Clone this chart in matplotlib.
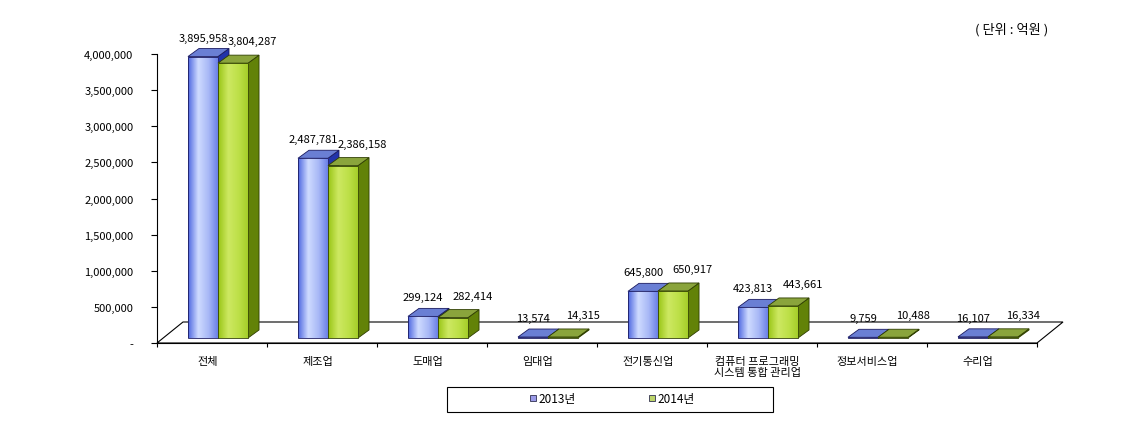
import matplotlib
matplotlib.use("Agg")
import matplotlib.pyplot as plt
import numpy as np
from matplotlib.patches import Polygon, Rectangle
from matplotlib.colors import LinearSegmentedColormap
from matplotlib.lines import Line2D

plt.rcParams["font.family"] = ["Noto Sans CJK KR", "DejaVu Sans"]

# --- data (억원) ---
categories = ["전체", "제조업", "도매업", "임대업", "전기통신업",
              "컴퓨터 프로그래밍\n시스템 통합 관리업", "정보서비스업", "수리업"]
values_2013 = [3895958, 2487781, 299124, 13574, 645800, 423813, 9759, 16107]
values_2014 = [3804287, 2386158, 282414, 14315, 650917, 443661, 10488, 16334]
series_names = ["2013년", "2014년"]
yticks = [0, 500000, 1000000, 1500000, 2000000, 2500000, 3000000, 3500000, 4000000]

# --- style ---
BLUE = dict(grad=["#4d66e0", "#cfdbff", "#a8b8f6", "#6379e6"], top="#6a7fd4",
            side="#2233aa", edge="#1a1a60", legend="#9a9ae8")
GREEN = dict(grad=["#98c414", "#cde862", "#bde048", "#a2cc26"], top="#8aa43c",
             side="#628208", edge="#2e3d00", legend="#bcd46a")

W, H = 1140, 427
fig = plt.figure(figsize=(W / 100, H / 100), dpi=100)
ax = fig.add_axes([157 / W, 83 / H, 880 / W, 289 / H])
ax.set_xlim(0, 8)
ax.set_ylim(0, 4000000)

XPX = 8 / 880          # categories per pixel
YPX = 4000000 / 289    # value units per pixel

# floor
fdx, fdy = 26 * XPX, 21 * YPX
floor = Polygon([(0, 0), (8, 0), (8 + fdx, fdy), (fdx, fdy)], closed=True,
                facecolor="white", edgecolor="black", lw=0.8, clip_on=False, zorder=1)
ax.add_patch(floor)

bw = 0.273
offx, offy = 6 * XPX, 5 * YPX
ddx, ddy = 11 * XPX, 8 * YPX

for s, (vals, st) in enumerate([(values_2013, BLUE), (values_2014, GREEN)]):
    cmap = LinearSegmentedColormap.from_list("g%d" % s, st["grad"])
    for i, v in enumerate(vals):
        x0 = i + 0.227 + s * bw + offx
        x1 = x0 + bw
        y0 = offy
        y1 = v + offy
        z = 3 + s
        side = Polygon([(x1, y0), (x1 + ddx, y0 + ddy), (x1 + ddx, y1 + ddy), (x1, y1)],
                       closed=True, facecolor=st["side"], edgecolor=st["edge"],
                       lw=0.6, clip_on=False, zorder=z)
        top = Polygon([(x0, y1), (x1, y1), (x1 + ddx, y1 + ddy), (x0 + ddx, y1 + ddy)],
                      closed=True, facecolor=st["top"], edgecolor=st["edge"],
                      lw=0.6, clip_on=False, zorder=z)
        front = Rectangle((x0, y0), bw, v, facecolor="none", edgecolor=st["edge"],
                          lw=0.6, clip_on=False, zorder=z + 0.2)
        ax.add_patch(side)
        ax.add_patch(top)
        ax.add_patch(front)
        im = ax.imshow(np.linspace(0, 1, 256)[None, :], cmap=cmap, aspect="auto",
                       extent=(x0, x1, y0, y1), zorder=z + 0.1, interpolation="bilinear")
        im.set_clip_path(front)

    # data labels
    lx = 0.42 if s == 0 else 0.87
    lift = 19 if s == 0 else 22
    for i, v in enumerate(vals):
        ax.text(i + lx, v + offy + lift * YPX, f"{v:,}", ha="center", va="center",
                fontsize=8, zorder=10)

ax.set_xlim(0, 8)
ax.set_ylim(0, 4000000)

for sp in ["top", "right"]:
    ax.spines[sp].set_visible(False)
for sp in ["left", "bottom"]:
    ax.spines[sp].set_linewidth(0.8)
    ax.spines[sp].set_zorder(2)

ax.set_yticks(yticks)
ax.set_yticklabels(["-" if t == 0 else f"{t:,}" for t in yticks], fontsize=8)
ax.tick_params(axis="y", length=4, width=0.8, pad=13)
ax.set_xticks(range(9))
ax.set_xticklabels([])
ax.tick_params(axis="x", length=3, width=0.8)

for i, c in enumerate(categories):
    ax.text(i + 0.46, -13 * YPX, c, ha="center", va="top", fontsize=8,
            linespacing=1.15)

# unit note
fig.text(1012 / W, 1 - 30 / H, "( 단위 : 억원 )", ha="center", va="center", fontsize=9.5)

# legend box
fig.patches.append(Rectangle((447 / W, 1 - 413 / H), 326 / W, 25 / H, transform=fig.transFigure,
                             facecolor="white", edgecolor="black", lw=0.8))
handles = [Line2D([], [], marker="s", ls="none", markersize=5,
                  markerfacecolor=st["legend"], markeredgecolor="#303050", markeredgewidth=0.6)
           for st in (BLUE, GREEN)]
fig.legend(handles, series_names, loc="center", bbox_to_anchor=(612 / W, 1 - 400 / H),
           ncol=2, frameon=False, fontsize=8.5, handlelength=0.6, handletextpad=0.15,
           columnspacing=6.2)

fig.savefig("out.png", dpi=100, facecolor="white")
